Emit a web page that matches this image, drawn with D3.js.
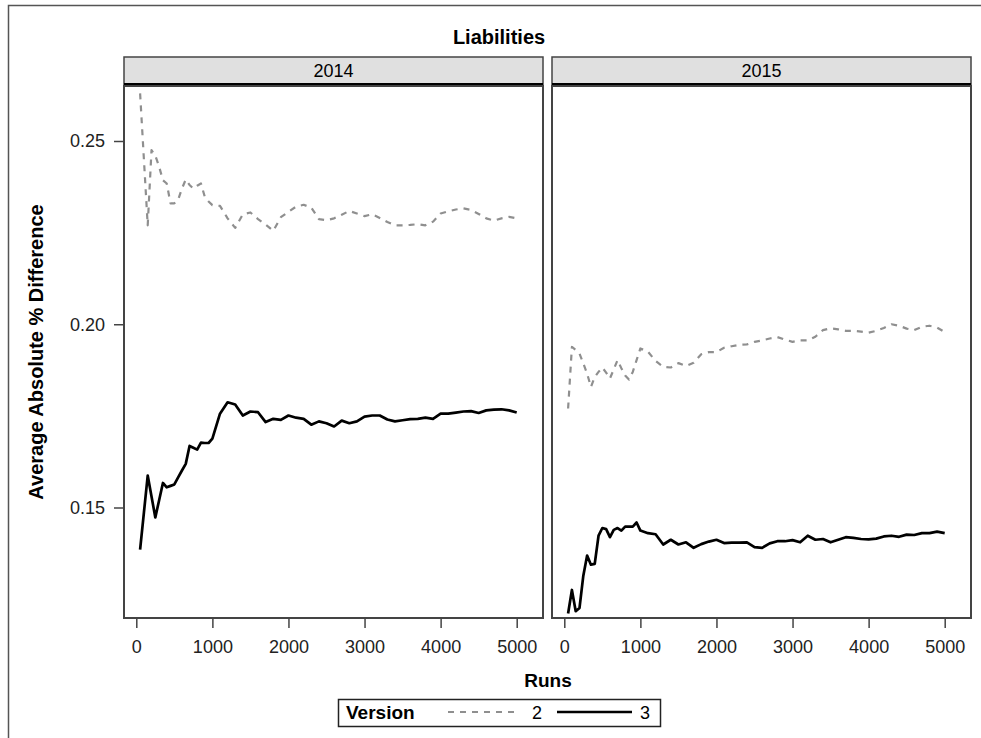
<!DOCTYPE html>
<html>
<head>
<meta charset="utf-8">
<script src="https://cdn.jsdelivr.net/npm/d3@7"></script>
<style>
  html, body { margin: 0; padding: 0; background: #fff; }
  svg { display: block; font-family: "Liberation Sans", Arial, sans-serif; }
</style>
</head>
<body>
<svg id="chart" width="981" height="738"></svg>
<script>
// Run counts at which the averages were recorded
const runs = [50,100,150,200,250,300,350,400,450,500,550,600,650,700,750,800,850,900,950,1000,
  1100,1200,1300,1400,1500,1600,1700,1800,1900,2000,2100,2200,2300,2400,2500,2600,2700,2800,2900,3000,
  3100,3200,3300,3400,3500,3600,3700,3800,3900,4000,4100,4200,4300,4400,4500,4600,4700,4800,4900,5000];

const years = ["2014", "2015"];
const versions = ["2", "3"];

// Average absolute % difference, version 2, year 2014
const v2_2014 = [0.2630,0.2450,0.2270,0.2475,0.2460,0.2430,0.2393,0.2384,0.2330,0.2330,0.2340,0.2370,0.2395,0.2380,0.2370,0.2378,0.2384,0.2348,0.2335,0.2325,
  0.2323,0.2289,0.2263,0.2300,0.2305,0.2287,0.2272,0.2255,0.2292,0.2307,0.2321,0.2326,0.2318,0.2287,0.2284,0.2289,0.2299,0.2309,0.2302,0.2295,
  0.2300,0.2290,0.2279,0.2270,0.2270,0.2271,0.2273,0.2270,0.2280,0.2302,0.2308,0.2313,0.2316,0.2312,0.2301,0.2289,0.2283,0.2289,0.2293,0.2289];

// Version 3, year 2014
const v3_2014 = [0.1385,0.1486,0.1587,0.1530,0.1473,0.1520,0.1567,0.1555,0.1559,0.1563,0.1582,0.1601,0.1619,0.1668,0.1663,0.1658,0.1677,0.1676,0.1676,0.1688,
  0.1756,0.1787,0.1781,0.1751,0.1762,0.1760,0.1733,0.1742,0.1739,0.1751,0.1745,0.1742,0.1726,0.1735,0.1730,0.1721,0.1737,0.1730,0.1735,0.1748,
  0.1751,0.1751,0.1740,0.1735,0.1738,0.1741,0.1742,0.1745,0.1742,0.1756,0.1756,0.1759,0.1762,0.1763,0.1758,0.1765,0.1767,0.1768,0.1765,0.1759];

// Version 2, year 2015
const v2_2015 = [0.1770,0.1938,0.1930,0.1920,0.1893,0.1865,0.1829,0.1856,0.1870,0.1882,0.1868,0.1852,0.1877,0.1902,0.1880,0.1860,0.1849,0.1870,0.1902,0.1934,
  0.1925,0.1900,0.1884,0.1882,0.1894,0.1886,0.1895,0.1918,0.1924,0.1924,0.1936,0.1940,0.1944,0.1945,0.1952,0.1956,0.1961,0.1965,0.1958,0.1952,
  0.1956,0.1956,0.1966,0.1984,0.1989,0.1986,0.1982,0.1982,0.1980,0.1977,0.1982,0.1990,0.2000,0.1996,0.1988,0.1984,0.1993,0.1996,0.1991,0.1979];

// Version 3, year 2015
const v3_2015 = [0.1211,0.1275,0.1217,0.1226,0.1314,0.1369,0.1344,0.1346,0.1423,0.1444,0.1441,0.1419,0.1439,0.1444,0.1437,0.1448,0.1448,0.1448,0.1459,0.1437,
  0.1430,0.1427,0.1399,0.1412,0.1399,0.1405,0.1390,0.1400,0.1407,0.1412,0.1403,0.1404,0.1404,0.1405,0.1392,0.1390,0.1402,0.1408,0.1408,0.1411,
  0.1405,0.1423,0.1412,0.1414,0.1405,0.1412,0.1419,0.1417,0.1414,0.1413,0.1415,0.1421,0.1423,0.1420,0.1426,0.1425,0.1430,0.1430,0.1434,0.1430];

const xTicks = [0, 1000, 2000, 3000, 4000, 5000];
const yTicks = [0.15, 0.20, 0.25];

const panelData = {
  "2014": { "2": v2_2014, "3": v3_2014 },
  "2015": { "2": v2_2015, "3": v3_2015 }
};

const svg = d3.select("#chart");
const axisColor = "#444";

// Outer graph frame
svg.append("rect")
  .attr("x", 8.5).attr("y", 5.5).attr("width", 990).attr("height", 760)
  .attr("fill", "none").attr("stroke", "#555").attr("stroke-width", 1.5);

// Title
svg.append("text")
  .attr("x", 499).attr("y", 44)
  .attr("text-anchor", "middle")
  .attr("font-size", 20).attr("font-weight", "bold")
  .text("Liabilities");

// Panel geometry
const panelTop = 86, panelBottom = 618, panelW = 419;
const stripTop = 57;
const panelLefts = { "2014": 124, "2015": 552 };

const y = d3.scaleLinear().domain([0.15, 0.25]).range([507.5, 141]);

const styles = {
  "2": { stroke: "#8f8f8f", width: 2.2, dash: "6,6" },
  "3": { stroke: "#000", width: 2.7, dash: null }
};

years.forEach(yr => {
  const pl = panelLefts[yr];
  const x = d3.scaleLinear().domain([0, 5000]).range([pl + 12.3, pl + 392.7]);
  const g = svg.append("g");

  // Strip header
  g.append("rect")
    .attr("x", pl).attr("y", stripTop).attr("width", panelW).attr("height", panelTop - stripTop)
    .attr("fill", "#e0e0e0").attr("stroke", axisColor).attr("stroke-width", 1.5);
  g.append("line")
    .attr("x1", pl).attr("x2", pl + panelW).attr("y1", panelTop - 1.5).attr("y2", panelTop - 1.5)
    .attr("stroke", "#000").attr("stroke-width", 3);
  g.append("text")
    .attr("x", pl + panelW / 2).attr("y", stripTop + 20)
    .attr("text-anchor", "middle").attr("font-size", 18)
    .text(yr);

  // Panel frame
  g.append("rect")
    .attr("x", pl).attr("y", panelTop).attr("width", panelW).attr("height", panelBottom - panelTop)
    .attr("fill", "none").attr("stroke", axisColor).attr("stroke-width", 2);

  // X axis
  const xAxis = g.append("g")
    .attr("transform", `translate(0,${panelBottom})`)
    .call(d3.axisBottom(x).tickValues(xTicks).tickSize(10).tickPadding(12).tickFormat(d3.format("d")));
  xAxis.select(".domain").remove();
  xAxis.selectAll(".tick line").attr("stroke", axisColor).attr("stroke-width", 1.5);
  xAxis.selectAll(".tick text").attr("font-size", 18).attr("fill", "#222")
    .attr("font-family", "'Liberation Sans', Arial, sans-serif");

  // Y axis only on the first panel
  if (yr === "2014") {
    const yAxis = g.append("g")
      .attr("transform", `translate(${pl},0)`)
      .call(d3.axisLeft(y).tickValues(yTicks).tickSize(10).tickPadding(9).tickFormat(d3.format(".2f")));
    yAxis.select(".domain").remove();
    yAxis.selectAll(".tick line").attr("stroke", axisColor).attr("stroke-width", 1.5);
    yAxis.selectAll(".tick text").attr("font-size", 18).attr("fill", "#222")
      .attr("font-family", "'Liberation Sans', Arial, sans-serif");
  }

  // Series lines
  const line = d3.line().x((d, i) => x(runs[i])).y(d => y(d));
  versions.forEach(v => {
    const s = styles[v];
    g.append("path")
      .datum(panelData[yr][v])
      .attr("d", line)
      .attr("fill", "none")
      .attr("stroke", s.stroke)
      .attr("stroke-width", s.width)
      .attr("stroke-linejoin", "round")
      .attr("stroke-dasharray", s.dash);
  });
});

// Axis titles
svg.append("text")
  .attr("x", 548).attr("y", 687)
  .attr("text-anchor", "middle").attr("font-size", 19).attr("font-weight", "bold")
  .text("Runs");

svg.append("text")
  .attr("transform", "translate(43,352) rotate(-90)")
  .attr("text-anchor", "middle").attr("font-size", 20).attr("font-weight", "bold")
  .text("Average Absolute % Difference");

// Legend
const lg = svg.append("g");
lg.append("rect")
  .attr("x", 338.5).attr("y", 699.5).attr("width", 322).attr("height", 27)
  .attr("fill", "#fff").attr("stroke", "#222").attr("stroke-width", 1.5);
lg.append("text")
  .attr("x", 346).attr("y", 719)
  .attr("font-size", 19).attr("font-weight", "bold")
  .text("Version");
const legendItems = [
  { v: "2", x1: 448, x2: 518, tx: 537 },
  { v: "3", x1: 557, x2: 632, tx: 645 }
];
legendItems.forEach(it => {
  const s = styles[it.v];
  lg.append("line")
    .attr("x1", it.x1).attr("x2", it.x2).attr("y1", 712).attr("y2", 712)
    .attr("stroke", s.stroke).attr("stroke-width", s.width)
    .attr("stroke-dasharray", s.dash);
  lg.append("text")
    .attr("x", it.tx).attr("y", 719)
    .attr("text-anchor", "middle").attr("font-size", 18)
    .text(it.v);
});
</script>
</body>
</html>
